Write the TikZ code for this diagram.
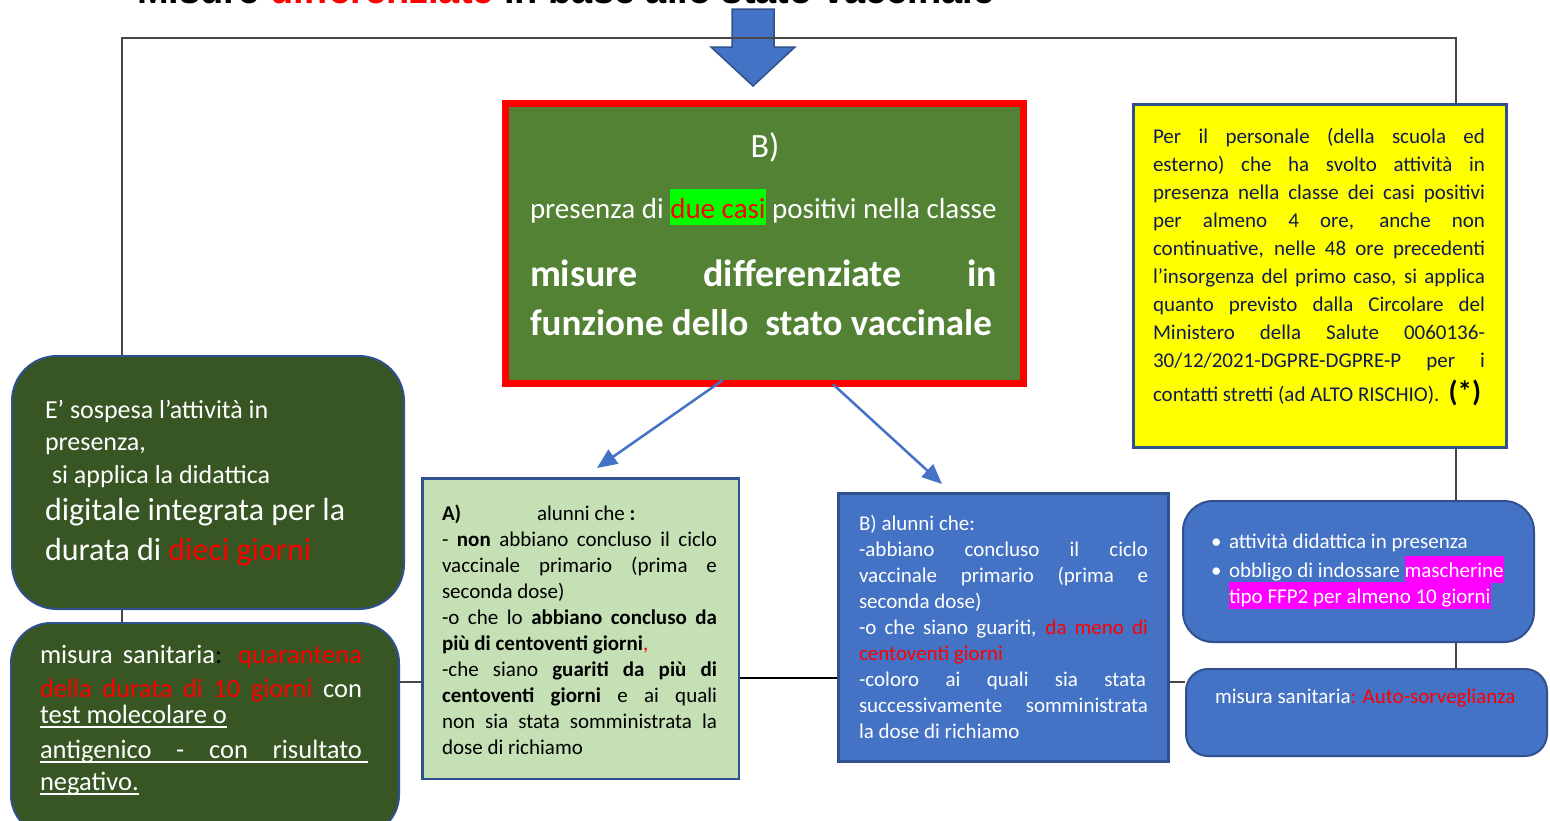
\documentclass[tikz,border=0pt]{standalone}
\usepackage{fontspec}
\setmainfont{Carlito}
\newfontfamily\titlefont{Liberation Sans}
\usetikzlibrary{arrows.meta}
\definecolor{mblue}{HTML}{4472C4}
\definecolor{bdr}{HTML}{2F528F}
\definecolor{mgreen}{HTML}{548235}
\definecolor{dgreen}{HTML}{375623}
\definecolor{lgreen}{HTML}{C5E0B4}
\definecolor{hgreen}{HTML}{00FF00}
\definecolor{hmag}{HTML}{FF00FF}
\definecolor{yel}{HTML}{FFFF00}
\definecolor{navy}{HTML}{0E1C4F}
\definecolor{fgray}{HTML}{474747}
\definecolor{rd}{HTML}{FF0000}
\newcommand\hlbox[4]{{\setlength\fboxsep{0pt}\colorbox{#1}{\rule[-#2]{0pt}{#3}#4}}}
\newcommand\jl[2]{\makebox[#1][s]{#2}}
\newcommand\fs[2]{\fontsize{#1}{#2}\selectfont}
\newcommand\ulin[1]{\setbox0=\hbox{#1}\rlap{\rule[-5pt]{\wd0}{1.6pt}}\box0}
\tikzset{
  box/.style={draw=bdr, line width=2.5pt, inner sep=0pt, anchor=north west},
  tl/.style={anchor=base west, inner sep=0pt, outer sep=0pt},
  arr/.style={draw=mblue, line width=2.5pt, -{Triangle[length=20pt,width=17pt]}},
  frame/.style={draw=fgray, line width=2pt},
  link/.style={draw=fgray, line width=1.5pt},
}
\begin{document}
\begin{tikzpicture}[x=1pt,y=-1pt]
\useasboundingbox (0,0) rectangle (1550,820);
\clip (0,0) rectangle (1550,820);
\fill[white] (0,0) rectangle (1550,820);

% title (cut at the top edge, as in the reference)
\node[tl, font=\titlefont\bfseries\fs{38}{40}] (title) at (137,3.5)
  {Misure \textcolor{rd}{differenziate} in base allo stato vaccinale};

% coordinates
\coordinate (fTL) at (122,38);
\coordinate (fTR) at (1456,38);
\coordinate (h1) at (0,682);
\coordinate (h2) at (0,678);
\coordinate (sA) at (713,0);
\coordinate (sB) at (836,0);
\coordinate (tipA) at (597,468);
\coordinate (tipB) at (942,484);

% block arrow
\path[fill=mblue, draw=bdr, line width=1.5pt, line join=miter]
  (732,9) -- (774,9) -- (774,47) -- (795,47) -- (753,86) -- (711,47) -- (732,47) -- cycle;

% boxes (positions = outer top-left corners)
\node[box, draw=rd, line width=7pt, fill=mgreen, minimum width=518pt, minimum height=280pt] (mb) at (502,100) {};
\node[box, line width=2pt, fill=dgreen, rounded corners=45pt, minimum width=392pt, minimum height=253pt] (lt) at (11,355) {};
\node[box, line width=2pt, fill=dgreen, rounded corners=40pt, minimum width=388pt, minimum height=212pt] (lb) at (10,622) {};
\node[box, fill=lgreen, minimum width=316.5pt, minimum height=300.5pt] (ab) at (421,477) {};
\node[box, line width=3pt, fill=mblue, minimum width=330pt, minimum height=268pt] (bb) at (837,492) {};
\node[box, line width=3pt, fill=yel, minimum width=373pt, minimum height=343pt] (yb) at (1132,103) {};
\node[box, line width=2pt, fill=mblue, rounded corners=30pt, minimum width=351pt, minimum height=141pt] (bu) at (1182,500) {};
\node[box, line width=2pt, fill=mblue, rounded corners=22pt, minimum width=361pt, minimum height=87pt] (ms) at (1185,668) {};

% connectors
\draw[frame] (lt.north -| fTL) -- (fTL) -- (fTR) -- (yb.north -| fTR);
\draw[link] (yb.south -| fTR) -- (bu.north -| fTR);
\draw[link] (bu.south -| fTR) -- (ms.north -| fTR);
\draw[link] (lt.south -| fTL) -- (lb.north -| fTL);
\draw[link] (lb.east |- h1) -- (ab.west |- h1);
\draw[draw=black, line width=2.5pt] (ab.east |- h2) -- (bb.west |- h2);
\draw[link] (bb.east |- h1) -- (ms.west |- h1);
\draw[arr, shorten <=-12pt] (mb.south -| sA) -- (tipA);
\draw[arr, shorten <=-4pt] (mb.south -| sB) -- (tipB);

% main box text
\begin{scope}[every node/.style={tl, text=white}]
\node[anchor=base, font=\fs{34}{36}] (m1) at (765,157) {B)};
\node[font=\fs{29}{34}] (m2) at (530,218) {presenza di \hlbox{hgreen}{7pt}{36pt}{\textcolor{rd}{due casi}} positivi nella classe};
\node[font=\bfseries\fs{38}{40}] (m3) at (530,286) {\jl{467pt}{misure differenziate in}};
\node[font=\bfseries\fs{37}{40}] (m4) at (530,335) {funzione dello\ \ stato vaccinale};

% left top
\node[font=\fs{26}{30}] (l1) at (45,418) {E’ sospesa l’attività in};
\node[font=\fs{26}{30}] (l2) at (45,450) {presenza,};
\node[font=\fs{26}{30}] (l3) at (52,483) {si applica la didattica};
\node[font=\fs{32}{36}] (l4) at (45,520) {digitale integrata per la};
\node[font=\fs{32}{36}] (l5) at (45,560) {durata di \textcolor{rd}{dieci giorni}};

% left bottom
\node[font=\fs{26.5}{30}] (q1) at (40,663) {\jl{322pt}{misura sanitaria{\color{black}:} \textcolor{rd}{quarantena}}};
\node[font=\fs{26.5}{30}] (q2) at (40,697) {\jl{322pt}{\textcolor{rd}{della durata di 10 giorni} con}};
\node[font=\fs{26.5}{30}] (q3) at (40,723) {\ulin{test molecolare o}};
\node[font=\fs{26.5}{30}] (q4) at (40,758) {\ulin{\jl{322pt}{antigenico - con risultato}\hspace*{6pt}}};
\node[font=\fs{26.5}{30}] (q5) at (40,790) {\ulin{negativo.}};

% B box
\node[font=\fs{21}{26}] (b1) at (859,530) {B) alunni che:};
\node[font=\fs{21}{26}] (b2) at (859,556) {\jl{289pt}{-abbiano concluso il ciclo}};
\node[font=\fs{21}{26}] (b3) at (859,582) {\jl{289pt}{vaccinale primario (prima e}};
\node[font=\fs{21}{26}] (b4) at (859,608) {seconda dose)};
\node[font=\fs{21}{26}] (b5) at (859,634) {\jl{289pt}{-o che siano guariti, \textcolor{rd}{da meno di}}};
\node[font=\fs{21}{26}] (b6) at (859,660) {\textcolor{rd}{centoventi giorni}};
\node[font=\fs{21}{26}] (b7) at (859,686) {\jl{287pt}{-coloro ai quali sia stata}};
\node[font=\fs{21}{26}] (b8) at (859,712) {\jl{289pt}{successivamente somministrata}};
\node[font=\fs{21}{26}] (b9) at (859,738) {la dose di richiamo};

% bullets box
\node[font=\fs{21}{26}] (u1) at (1211,548) {\makebox[18pt][l]{\textbullet}attività didattica in presenza};
\node[font=\fs{21}{26}] (u2) at (1211,577) {\makebox[18pt][l]{\textbullet}obbligo di indossare \hlbox{hmag}{6pt}{27pt}{mascherine}};
\node[font=\fs{21}{26}] (u3) at (1229,603) {\hlbox{hmag}{6pt}{27pt}{tipo FFP2 per almeno 10 giorni}};

% misura sanitaria right
\node[font=\fs{21}{26}] (s1) at (1215,703) {misura sanitaria\textcolor{rd}{: Auto-sorveglianza}};
\end{scope}

% A box
\begin{scope}[every node/.style={tl, text=black, font=\fs{21}{26}}]
\node (a1) at (442,520) {\textbf{A)}};
\node (a1b) at (537,520) {alunni che \textbf{:}};
\node (a2) at (442,546) {\jl{275pt}{- \textbf{non} abbiano concluso il ciclo}};
\node (a3) at (442,572) {\jl{275pt}{vaccinale primario (prima e}};
\node (a4) at (442,598) {seconda dose)};
\node (a5) at (442,624) {\jl{275pt}{-o che lo \textbf{abbiano concluso da}}};
\node (a6) at (442,650) {\textbf{più di centoventi giorni}\textcolor{rd}{,}};
\node (a7) at (442,676) {\jl{275pt}{-che siano \textbf{guariti da più di}}};
\node (a8) at (442,702) {\jl{275pt}{\textbf{centoventi giorni} e ai quali}};
\node (a9) at (442,728) {\jl{275pt}{non sia stata somministrata la}};
\node (a10) at (442,754) {dose di richiamo};
\end{scope}

% yellow box
\begin{scope}[every node/.style={tl, text=navy, font=\fs{21}{28}}]
\node (y1) at (1153,143) {\jl{332pt}{Per il personale (della scuola ed}};
\node (y2) at (1153,171) {\jl{332pt}{esterno) che ha svolto attività in}};
\node (y3) at (1153,199) {\jl{332pt}{presenza nella classe dei casi positivi}};
\node (y4) at (1153,227) {\jl{332pt}{per almeno 4 ore, anche non}};
\node (y5) at (1153,255) {\jl{332pt}{continuative, nelle 48 ore precedenti}};
\node (y6) at (1153,283) {\jl{332pt}{l’insorgenza del primo caso, si applica}};
\node (y7) at (1153,311) {\jl{332pt}{quanto previsto dalla Circolare del}};
\node (y8) at (1153,339) {\jl{332pt}{Ministero della Salute 0060136-}};
\node (y9) at (1153,367) {\jl{332pt}{30/12/2021-DGPRE-DGPRE-P per i}};
\node (y10) at (1153,401) {contatti stretti (ad ALTO RISCHIO).\hspace{9pt}{\color{black}\bfseries\fs{29}{30}(*)}};
\end{scope}
\end{tikzpicture}
\end{document}
